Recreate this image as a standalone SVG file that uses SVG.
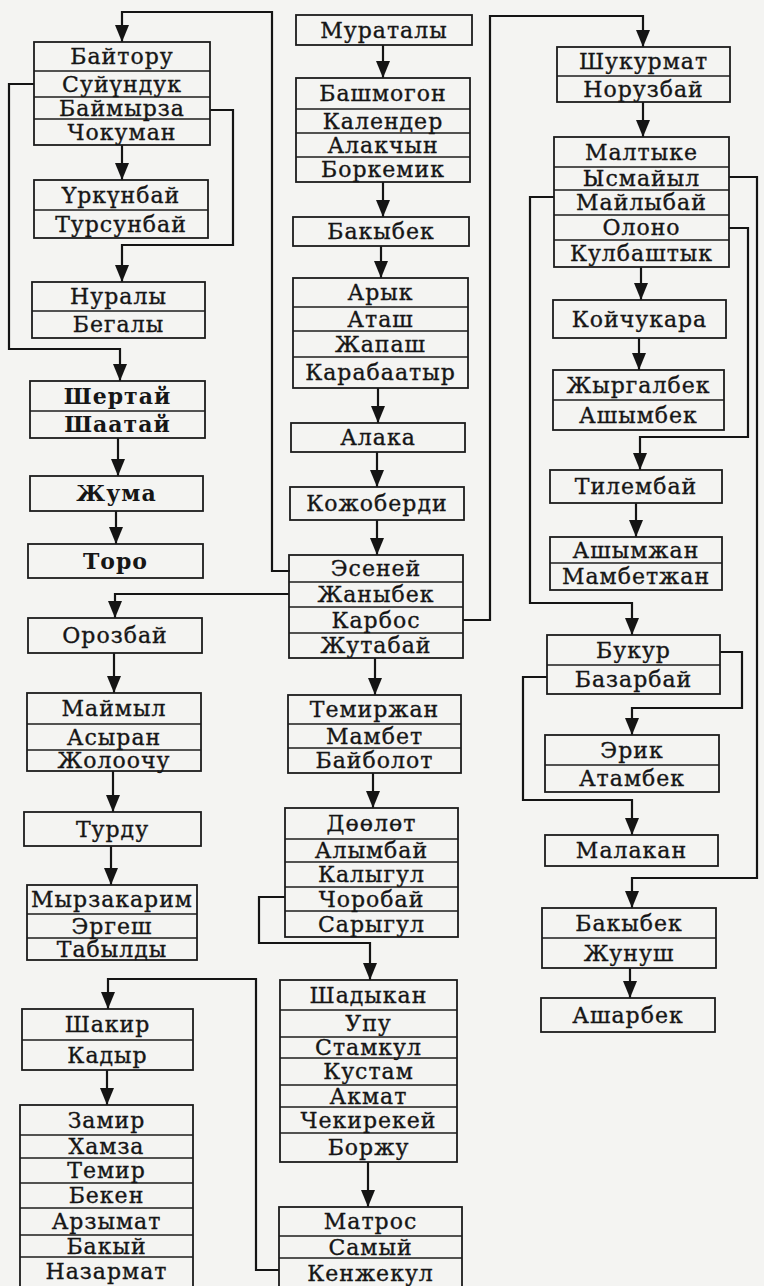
<svg xmlns="http://www.w3.org/2000/svg" width="764" height="1286" viewBox="0 0 764 1286">
<defs>
<style>
.bx{fill:none;stroke:#1c1c1c;stroke-width:1.8}
.dv{stroke:#1c1c1c;stroke-width:1.5}
.t{font-family:"DejaVu Serif","Liberation Serif",serif;font-size:22px;letter-spacing:1px;text-anchor:middle;fill:#161616;stroke:#161616;stroke-width:0.35}
.b{font-weight:bold;stroke-width:0}
.cn{fill:none;stroke:#141414;stroke-width:2.2;marker-end:url(#ah)}
</style>
<marker id="ah" viewBox="0 0 17 14" refX="17" refY="7" markerWidth="17" markerHeight="14" markerUnits="userSpaceOnUse" orient="auto"><path d="M0,0 L17,7 L0,14 z" fill="#141414"/></marker>
</defs>
<rect width="764" height="1286" fill="#f4f4f2"/>

<g id="connectors">
<path class="cn" d="M290,571 H272 V12 H122 V42"/>
<path class="cn" d="M34,84 H9 V349 H120 V381"/>
<path class="cn" d="M210,110 H233 V245 H122 V282"/>
<path class="cn" d="M122,145 V180"/>
<path class="cn" d="M118,438 V476"/>
<path class="cn" d="M116,511 V544"/>
<path class="cn" d="M289,594 H115 V618"/>
<path class="cn" d="M114,653 V693"/>
<path class="cn" d="M113,771 V812"/>
<path class="cn" d="M111,846 V885"/>
<path class="cn" d="M279,1270 H256 V979 H108 V1009"/>
<path class="cn" d="M107,1070 V1105"/>
<path class="cn" d="M383,45 V78"/>
<path class="cn" d="M383,182 V217"/>
<path class="cn" d="M381,246 V278"/>
<path class="cn" d="M378,388 V423"/>
<path class="cn" d="M377,452 V487"/>
<path class="cn" d="M377,520 V555"/>
<path class="cn" d="M375,658 V695"/>
<path class="cn" d="M373,773 V808"/>
<path class="cn" d="M285,897 H259 V943 H370 V980"/>
<path class="cn" d="M368,1162 V1207"/>
<path class="cn" d="M463,620 H490 V16 H643 V47"/>
<path class="cn" d="M643,102 V137"/>
<path class="cn" d="M729,177 H757 V878 H632 V908"/>
<path class="cn" d="M554,197 H530 V603 H632 V635"/>
<path class="cn" d="M729,228 H748 V437 H640 V470"/>
<path class="cn" d="M641,267 V300"/>
<path class="cn" d="M639,338 V370"/>
<path class="cn" d="M636,503 V537"/>
<path class="cn" d="M720,652 H742 V708 H632 V735"/>
<path class="cn" d="M547,677 H523 V800 H632 V835"/>
<path class="cn" d="M630,968 V998"/>
</g>

<g id="n-baytoru">
<rect class="bx" x="34" y="42" width="176" height="103"/>
<path class="dv" d="M34,71 H210 M34,97 H210 M34,119 H210"/>
<text class="t" x="122" y="64">Байтору</text>
<text class="t" x="122" y="91.5">Суйүндук</text>
<text class="t" x="122" y="115.5">Баймырза</text>
<text class="t" x="122" y="139.5">Чокуман</text>
</g>
<g id="n-urkunbay">
<rect class="bx" x="34" y="180" width="174" height="58"/>
<path class="dv" d="M34,210 H208"/>
<text class="t" x="121" y="202.5">Үркүнбай</text>
<text class="t" x="121" y="231.5">Турсунбай</text>
</g>
<g id="n-nuraly">
<rect class="bx" x="32" y="282" width="173" height="56"/>
<path class="dv" d="M32,311 H205"/>
<text class="t" x="118.5" y="304">Нуралы</text>
<text class="t" x="118.5" y="332">Бегалы</text>
</g>
<g id="n-shertay">
<rect class="bx" x="30" y="381" width="175" height="57"/>
<path class="dv" d="M30,411 H205"/>
<text class="t b" x="117.5" y="403.5">Шертай</text>
<text class="t b" x="117.5" y="432">Шаатай</text>
</g>
<g id="n-zhuma">
<rect class="bx" x="30" y="476" width="173" height="35"/>
<text class="t b" x="116.5" y="501">Жума</text>
</g>
<g id="n-toro">
<rect class="bx" x="28" y="544" width="175" height="34"/>
<text class="t b" x="115.5" y="568.5">Торо</text>
</g>
<g id="n-orozbay">
<rect class="bx" x="28" y="618" width="174" height="35"/>
<text class="t" x="115" y="643">Орозбай</text>
</g>
<g id="n-maymyl">
<rect class="bx" x="27" y="693" width="174" height="78"/>
<path class="dv" d="M27,724 H201 M27,750 H201"/>
<text class="t" x="114" y="716">Маймыл</text>
<text class="t" x="114" y="744.5">Асыран</text>
<text class="t" x="114" y="768">Жолоочу</text>
</g>
<g id="n-turdu">
<rect class="bx" x="24" y="812" width="177" height="34"/>
<text class="t" x="112.5" y="836.5">Турду</text>
</g>
<g id="n-myrzakarim">
<rect class="bx" x="27" y="885" width="170" height="75"/>
<path class="dv" d="M27,914 H197 M27,938 H197"/>
<text class="t" x="112" y="907">Мырзакарим</text>
<text class="t" x="112" y="933.5">Эргеш</text>
<text class="t" x="112" y="956.5">Табылды</text>
</g>
<g id="n-shakir">
<rect class="bx" x="22" y="1009" width="171" height="61"/>
<path class="dv" d="M22,1040 H193"/>
<text class="t" x="107.5" y="1032">Шакир</text>
<text class="t" x="107.5" y="1062.5">Кадыр</text>
</g>
<g id="n-zamir">
<rect class="bx" x="20" y="1105" width="173" height="190"/>
<path class="dv" d="M20,1135 H193 M20,1158 H193 M20,1183 H193 M20,1208 H193 M20,1235 H193 M20,1257 H193"/>
<text class="t" x="106.5" y="1127.5">Замир</text>
<text class="t" x="106.5" y="1154">Хамза</text>
<text class="t" x="106.5" y="1178">Темир</text>
<text class="t" x="106.5" y="1203">Бекен</text>
<text class="t" x="106.5" y="1229">Арзымат</text>
<text class="t" x="106.5" y="1253.5">Бакый</text>
<text class="t" x="106.5" y="1278.5">Назармат</text>
</g>

<g id="n-murataly">
<rect class="bx" x="296" y="15" width="176" height="30"/>
<text class="t" x="384" y="37.5">Мураталы</text>
</g>
<g id="n-bashmogon">
<rect class="bx" x="296" y="78" width="174" height="104"/>
<path class="dv" d="M296,109 H470 M296,133 H470 M296,157 H470"/>
<text class="t" x="383" y="101">Башмогон</text>
<text class="t" x="383" y="128.5">Календер</text>
<text class="t" x="383" y="152.5">Алакчын</text>
<text class="t" x="383" y="177">Боркемик</text>
</g>
<g id="n-bakybek1">
<rect class="bx" x="293" y="217" width="176" height="29"/>
<text class="t" x="381" y="239">Бакыбек</text>
</g>
<g id="n-aryk">
<rect class="bx" x="293" y="278" width="175" height="110"/>
<path class="dv" d="M293,307 H468 M293,331 H468 M293,357 H468"/>
<text class="t" x="380.5" y="300">Арык</text>
<text class="t" x="380.5" y="326.5">Аташ</text>
<text class="t" x="380.5" y="351.5">Жапаш</text>
<text class="t" x="380.5" y="380">Карабаатыр</text>
</g>
<g id="n-alaka">
<rect class="bx" x="291" y="423" width="174" height="29"/>
<text class="t" x="378" y="445">Алака</text>
</g>
<g id="n-kozhoberdi">
<rect class="bx" x="290" y="487" width="174" height="33"/>
<text class="t" x="377" y="511">Кожоберди</text>
</g>
<g id="n-eseney">
<rect class="bx" x="289" y="555" width="174" height="103"/>
<path class="dv" d="M289,582 H463 M289,607 H463 M289,633 H463"/>
<text class="t" x="376" y="576">Эсеней</text>
<text class="t" x="376" y="602">Жаныбек</text>
<text class="t" x="376" y="627.5">Карбос</text>
<text class="t" x="376" y="653">Жутабай</text>
</g>
<g id="n-temirzhan">
<rect class="bx" x="288" y="695" width="173" height="78"/>
<path class="dv" d="M288,724 H461 M288,748 H461"/>
<text class="t" x="374.5" y="717">Темиржан</text>
<text class="t" x="374.5" y="743.5">Мамбет</text>
<text class="t" x="374.5" y="768">Байболот</text>
</g>
<g id="n-doolot">
<rect class="bx" x="285" y="808" width="173" height="129"/>
<path class="dv" d="M285,839 H458 M285,862 H458 M285,887 H458 M285,911 H458"/>
<text class="t" x="371.5" y="831">Дөөлөт</text>
<text class="t" x="371.5" y="858">Алымбай</text>
<text class="t" x="371.5" y="882">Калыгул</text>
<text class="t" x="371.5" y="906.5">Чоробай</text>
<text class="t" x="371.5" y="931.5">Сарыгул</text>
</g>
<g id="n-shadykan">
<rect class="bx" x="280" y="980" width="177" height="182"/>
<path class="dv" d="M280,1010 H457 M280,1037 H457 M280,1058 H457 M280,1085 H457 M280,1107 H457 M280,1133 H457"/>
<text class="t" x="368.5" y="1002.5">Шадыкан</text>
<text class="t" x="368.5" y="1031">Упу</text>
<text class="t" x="368.5" y="1055">Стамкул</text>
<text class="t" x="368.5" y="1079">Кустам</text>
<text class="t" x="368.5" y="1103.5">Акмат</text>
<text class="t" x="368.5" y="1127.5">Чекирекей</text>
<text class="t" x="368.5" y="1155">Боржу</text>
</g>
<g id="n-matros">
<rect class="bx" x="279" y="1207" width="183" height="90"/>
<path class="dv" d="M279,1236 H462 M279,1258 H462"/>
<text class="t" x="370.5" y="1229">Матрос</text>
<text class="t" x="370.5" y="1254.5">Самый</text>
<text class="t" x="370.5" y="1280.5">Кенжекул</text>
</g>

<g id="n-shukurmat">
<rect class="bx" x="557" y="47" width="173" height="55"/>
<path class="dv" d="M557,76 H730"/>
<text class="t" x="643.5" y="69">Шукурмат</text>
<text class="t" x="643.5" y="96.5">Норузбай</text>
</g>
<g id="n-maltyke">
<rect class="bx" x="554" y="137" width="175" height="130"/>
<path class="dv" d="M554,167 H729 M554,190 H729 M554,215 H729 M554,240 H729"/>
<text class="t" x="641.5" y="159.5">Малтыке</text>
<text class="t" x="641.5" y="186">Ысмайыл</text>
<text class="t" x="641.5" y="210">Майлыбай</text>
<text class="t" x="641.5" y="235">Олоно</text>
<text class="t" x="641.5" y="261">Кулбаштык</text>
</g>
<g id="n-koychukara">
<rect class="bx" x="553" y="300" width="173" height="38"/>
<text class="t" x="639.5" y="326.5">Койчукара</text>
</g>
<g id="n-zhyrgalbek">
<rect class="bx" x="553" y="370" width="171" height="60"/>
<path class="dv" d="M553,400 H724"/>
<text class="t" x="638.5" y="392.5">Жыргалбек</text>
<text class="t" x="638.5" y="422.5">Ашымбек</text>
</g>
<g id="n-tilembay">
<rect class="bx" x="550" y="470" width="172" height="33"/>
<text class="t" x="636" y="494">Тилембай</text>
</g>
<g id="n-ashymzhan">
<rect class="bx" x="550" y="537" width="172" height="53"/>
<path class="dv" d="M550,563 H722"/>
<text class="t" x="636" y="557.5">Ашымжан</text>
<text class="t" x="636" y="584">Мамбетжан</text>
</g>
<g id="n-bukur">
<rect class="bx" x="547" y="635" width="173" height="59"/>
<path class="dv" d="M547,665 H720"/>
<text class="t" x="633.5" y="657.5">Букур</text>
<text class="t" x="633.5" y="687">Базарбай</text>
</g>
<g id="n-erik">
<rect class="bx" x="545" y="735" width="174" height="57"/>
<path class="dv" d="M545,765 H719"/>
<text class="t" x="632" y="757.5">Эрик</text>
<text class="t" x="632" y="786">Атамбек</text>
</g>
<g id="n-malakan">
<rect class="bx" x="545" y="835" width="173" height="31"/>
<text class="t" x="631.5" y="858">Малакан</text>
</g>
<g id="n-bakybek2">
<rect class="bx" x="542" y="908" width="174" height="60"/>
<path class="dv" d="M542,938 H716"/>
<text class="t" x="629" y="930.5">Бакыбек</text>
<text class="t" x="629" y="960.5">Жунуш</text>
</g>
<g id="n-asharbek">
<rect class="bx" x="541" y="998" width="174" height="34"/>
<text class="t" x="628" y="1022.5">Ашарбек</text>
</g>
</svg>
